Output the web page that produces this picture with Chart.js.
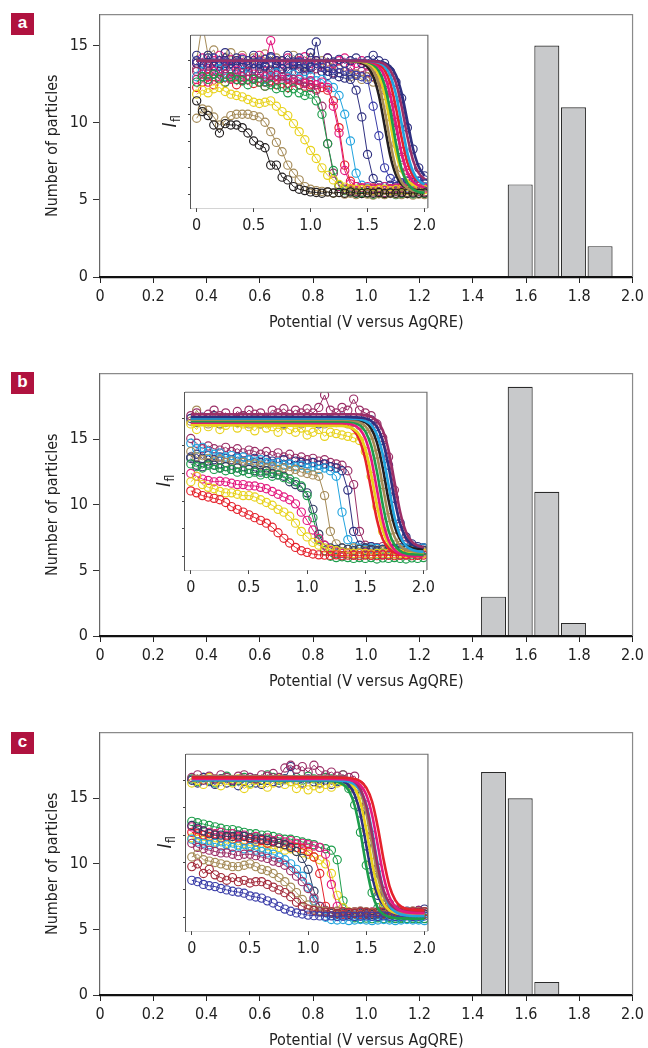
<!DOCTYPE html>
<html>
<head>
<meta charset="utf-8">
<title>Particle oxidation potentials</title>
<script src="https://cdn.jsdelivr.net/npm/chart.js@4.4.1/dist/chart.umd.min.js"></script>
<style>
  html, body { margin: 0; padding: 0; background: #fff; }
  body { position: relative; width: 648px; height: 1048px; overflow: hidden; }
  canvas { position: absolute; }
  .tag { position: absolute; left: 11px; width: 23px; height: 22px; background: #b0123f; color: #fff;
         font: bold 17px 'Liberation Sans', Arial, sans-serif; text-align: center; line-height: 20px; }
</style>
</head>
<body>
<div class="tag" style="top:13px">a</div>
<div class="tag" style="top:372px">b</div>
<div class="tag" style="top:732px">c</div>
<script>
// scan potentials (V vs AgQRE) shared by every recorded intensity curve
const SCAN_V = [0, 0.05, 0.1, 0.15, 0.2, 0.25, 0.3, 0.35, 0.4, 0.45, 0.5, 0.55, 0.6, 0.65, 0.7, 0.75, 0.8, 0.85, 0.9, 0.95,
  1, 1.05, 1.1, 1.15, 1.2, 1.25, 1.3, 1.35, 1.4, 1.45, 1.5, 1.55, 1.6, 1.65, 1.7, 1.75, 1.8, 1.85, 1.9, 1.95, 2];

// histogram bins (bin centre, V) and particle counts
const BINS_A = [1.578, 1.678, 1.778, 1.878];
const COUNTS_A = [6, 15, 11, 2];
const BINS_B = [1.478, 1.578, 1.678, 1.778];
const COUNTS_B = [3, 19, 11, 1];
const BINS_C = [1.478, 1.578, 1.678];
const COUNTS_C = [17, 15, 1];

const X_TICKS = [0, 0.2, 0.4, 0.6, 0.8, 1.0, 1.2, 1.4, 1.6, 1.8, 2.0];
const Y_TICKS = [0, 5, 10, 15];
const INSET_X_TICKS = [0, 0.5, 1.0, 1.5, 2.0];
const INSET_Y_TICKS = [0, 1, 2, 3, 4, 5];

// ---- panel a: recorded intensity curves ----
const aBlack = [3.5, 3.1, 2.95, 2.6, 2.3, 2.65, 2.6, 2.6, 2.5, 2.3, 2.0, 1.85, 1.75, 1.1, 1.1, 0.65, 0.55, 0.3, 0.2, 0.15,
  0.1, 0.08, 0.05, 0.1, 0.06, 0.08, 0.05, 0.1, 0.06, 0.04, 0.07, 0.05, 0.08, 0.04, 0.06, 0.05, 0.07, 0.04, 0.06, 0.05, 0.06];
const aOlive = [2.85, 3.2, 3.15, 2.9, 2.6, 2.75, 2.95, 3.0, 3.0, 3.0, 2.95, 2.9, 2.7, 2.35, 1.95, 1.6, 1.1, 0.8, 0.55, 0.3,
  0.2, 0.15, 0.12, 0.1, 0.05, 0.08, 0.02, 0.05, 0.0, 0.04, 0.02, -0.02, 0.03, 0.0, 0.04, 0.02, 0.0, 0.03, -0.02, 0.02, 0.0];
const aYellow = [3.75, 3.9, 3.8, 3.95, 4.0, 3.85, 3.75, 3.7, 3.65, 3.55, 3.45, 3.4, 3.45, 3.5, 3.3, 3.1, 2.95, 2.65, 2.35, 2.05,
  1.65, 1.35, 1.0, 0.72, 0.55, 0.38, 0.28, 0.22, 0.2, 0.18, 0.2, 0.15, 0.18, 0.2, 0.15, 0.18, 0.2, 0.15, 0.18, 0.2, 0.18];
const aGreen = [4.2, 4.4, 4.3, 4.5, 4.35, 4.2, 4.4, 4.3, 4.25, 4.1, 4.3, 4.2, 4.05, 4.1, 3.95, 4.0, 3.8, 3.95, 3.8, 3.7,
  3.75, 3.5, 3.0, 1.9, 0.9, 0.35, 0.15, 0.1, 0.05, 0.08, 0.05, 0.0, 0.04, 0.02, 0.05, 0.0, 0.03, 0.05, 0.02, 0.04, 0.03];
const aPlum = [4.6, 4.4, 4.8, 4.5, 4.3, 4.7, 4.4, 4.55, 4.3, 4.6, 4.35, 4.5, 4.2, 4.45, 4.3, 4.4, 4.15, 4.3, 4.1, 4.2,
  4.0, 3.9, 3.3, 1.9, 0.8, 0.3, 0.2, 0.15, 0.12, 0.1, 0.15, 0.1, 0.12, 0.08, 0.1, 0.12, 0.1, 0.08, 0.1, 0.12, 0.1];
const aMagenta = [4.3, 4.5, 4.2, 4.6, 4.4, 4.5, 4.3, 4.65, 4.4, 4.3, 4.5, 4.35, 4.4, 4.2, 4.45, 4.3, 4.35, 4.2, 4.3, 4.15,
  4.25, 4.1, 4.2, 4.0, 3.3, 2.3, 0.9, 0.4, 0.3, 0.25, 0.3, 0.2, 0.25, 0.3, 0.2, 0.25, 0.3, 0.22, 0.25, 0.3, 0.25];
const aRed = [4.0, 4.2, 4.4, 4.1, 4.3, 4.2, 4.35, 4.1, 4.25, 4.3, 4.15, 4.2, 4.05, 4.25, 4.1, 4.15, 4.0, 4.2, 4.1, 4.05,
  4.1, 3.95, 4.0, 3.9, 3.5, 2.5, 1.1, 0.5, 0.3, 0.25, 0.2, 0.25, 0.2, 0.18, 0.22, 0.2, 0.25, 0.2, 0.22, 0.2, 0.2];
const aCyan = [4.4, 4.6, 4.3, 4.5, 4.7, 4.4, 4.5, 4.3, 4.6, 4.45, 4.35, 4.5, 4.3, 4.4, 4.55, 4.3, 4.4, 4.5, 4.35, 4.3,
  4.4, 4.25, 4.3, 4.1, 4.0, 3.7, 3.0, 2.0, 0.8, 0.35, 0.25, 0.2, 0.25, 0.3, 0.2, 0.25, 0.3, 0.25, 0.3, 0.35, 0.3];
const aNavy1 = [4.9, 4.6, 5.2, 4.8, 4.6, 4.9, 4.7, 5.0, 4.75, 4.6, 4.9, 4.7, 4.8, 4.65, 5.0, 4.7, 4.6, 4.85, 4.7, 4.6,
  4.75, 5.7, 4.6, 4.45, 4.5, 4.4, 4.35, 4.3, 3.9, 2.9, 1.5, 0.6, 0.35, 0.3, 0.35, 0.3, 0.4, 0.35, 0.3, 0.35, 0.4];
const aNavy2 = [5.0, 4.7, 4.9, 5.1, 4.8, 4.95, 4.7, 4.9, 5.05, 4.8, 4.7, 4.95, 4.8, 5.1, 4.85, 4.7, 4.9, 4.8, 4.95, 4.7,
  4.8, 4.9, 4.75, 4.6, 4.7, 4.55, 4.6, 4.5, 4.45, 4.4, 4.3, 3.3, 2.2, 1.0, 0.6, 0.5, 0.45, 0.5, 0.45, 0.5, 0.55];
const aNavy3 = [5.2, 4.9, 5.1, 4.8, 5.0, 5.3, 4.9, 5.1, 4.85, 5.0, 5.2, 4.9, 5.05, 5.15, 4.9, 5.0, 5.2, 4.95, 5.1, 4.9,
  5.3, 5.0, 4.9, 5.1, 4.95, 5.05, 4.9, 5.0, 5.1, 4.9, 5.0, 5.2, 5.0, 4.9, 4.6, 4.2, 3.6, 2.5, 1.7, 1.0, 0.7];
const aPinkTop = [4.9, 5.1, 4.7, 5.0, 5.2, 4.8, 5.05, 4.9, 5.1, 4.85, 5.0, 5.2, 4.9, 5.75, 5.0, 4.9, 5.1, 4.8, 5.0, 5.15,
  4.9, 5.0, 4.85, 5.1, 4.9, 5.0, 5.1, 4.8, 4.9, 5.0, 4.8, 4.7, 4.5, 4.1, 3.6, 2.7, 1.6, 0.9, 0.5, 0.35, 0.3];
const aOliveTop = [5.0, 6.4, 5.2, 5.4, 4.9, 5.1, 5.3, 5.0, 5.2, 4.9, 5.1, 5.0, 5.25, 4.95, 5.1, 5.0, 4.9, 5.2, 5.0, 4.8,
  5.1, 4.9, 5.0, 4.8, 4.9, 4.7, 4.6, 4.4, 4.5, 4.3, 4.4, 4.2, 4.3, 3.7, 2.9, 1.9, 1.0, 0.5, 0.2, 0.15, 0.1];
const aPlumTop = [4.7, 4.9, 4.5, 4.8, 4.6, 5.0, 4.7, 4.5, 4.85, 4.6, 4.9, 4.55, 4.75, 4.6, 4.8, 4.5, 4.7, 4.9, 4.6, 4.75,
  4.5, 4.7, 4.6, 4.8, 4.55, 4.7, 4.6, 4.75, 4.5, 4.6, 4.55, 4.4, 4.2, 3.9, 3.3, 2.4, 1.4, 0.8, 0.55, 0.5, 0.45];

// panel a: fitted curves, sampled on FIT_V_A
const FIT_V_A = [0, 1.3, 1.4, 1.45, 1.5, 1.55, 1.6, 1.65, 1.7, 1.75, 1.8, 1.85, 1.9, 1.95, 2.0];
const fitABlack = [5, 5, 4.97, 4.91, 4.77, 4.42, 3.70, 2.58, 1.45, 0.73, 0.38, 0.24, 0.18, 0.16, 0.15];
const fitAOlive = [5, 5, 4.98, 4.95, 4.86, 4.63, 4.11, 3.15, 1.95, 0.99, 0.47, 0.24, 0.15, 0.12, 0.1];
const fitAYellow = [5, 5, 4.99, 4.97, 4.92, 4.78, 4.44, 3.74, 2.65, 1.56, 0.86, 0.52, 0.38, 0.33, 0.31];
const fitAGreen = [5, 5, 4.99, 4.98, 4.95, 4.85, 4.62, 4.10, 3.13, 1.92, 0.95, 0.43, 0.20, 0.10, 0.07];
const fitAMagenta = [5, 5, 5.0, 4.99, 4.97, 4.91, 4.77, 4.43, 3.72, 2.63, 1.53, 0.82, 0.48, 0.34, 0.28];
const fitARed = [5, 5, 5.0, 4.99, 4.98, 4.95, 4.86, 4.65, 4.15, 3.24, 2.11, 1.20, 0.70, 0.49, 0.40];
const fitACyan = [5, 5, 5.0, 5.0, 4.99, 4.97, 4.92, 4.78, 4.44, 3.74, 2.65, 1.56, 0.86, 0.52, 0.38];
const fitAPlum = [5, 5, 5.0, 5.0, 4.99, 4.98, 4.95, 4.87, 4.65, 4.17, 3.28, 2.17, 1.28, 0.80, 0.58];
const fitANavy = [5, 5, 5.0, 5.0, 5.0, 4.99, 4.97, 4.92, 4.79, 4.46, 3.79, 2.75, 1.71, 1.04, 0.71];

// ---- panel b: recorded intensity curves ----
const bRed = [2.37, 2.3, 2.2, 2.15, 2.1, 2.05, 1.95, 1.8, 1.7, 1.6, 1.5, 1.4, 1.3, 1.2, 1.05, 0.85, 0.65, 0.48, 0.32, 0.2,
  0.14, 0.08, 0.05, 0.04, 0.03, 0.05, 0.02, 0.04, 0.03, 0.02, 0.04, 0.03, 0.02, 0.04, 0.03, 0.02, 0.03, 0.04, 0.02, 0.03, 0.04];
const bYellow = [2.7, 2.9, 2.6, 2.5, 2.45, 2.35, 2.3, 2.3, 2.25, 2.2, 2.2, 2.15, 2.05, 1.95, 1.85, 1.7, 1.6, 1.45, 1.2, 0.9,
  0.7, 0.5, 0.4, 0.3, 0.25, 0.2, 0.15, 0.12, 0.1, 0.12, 0.1, 0.08, 0.1, 0.12, 0.1, 0.08, 0.1, 0.1, 0.12, 0.1, 0.1];
const bPink = [3.0, 2.9, 2.8, 2.75, 2.7, 2.72, 2.7, 2.65, 2.6, 2.6, 2.55, 2.55, 2.5, 2.45, 2.35, 2.25, 2.15, 2.05, 1.9, 1.6,
  1.3, 0.95, 0.65, 0.4, 0.2, 0.15, 0.1, 0.12, 0.08, 0.1, 0.12, 0.08, 0.1, 0.06, 0.08, 0.1, 0.08, 0.06, 0.1, 0.08, 0.1];
const bGreen = [3.35, 3.25, 3.2, 3.3, 3.15, 3.2, 3.1, 3.15, 3.05, 3.1, 3.0, 3.05, 2.95, 3.0, 2.9, 2.95, 2.85, 2.8, 2.7, 2.55,
  2.2, 1.4, 0.6, 0.2, 0.0, -0.05, -0.02, -0.05, -0.08, -0.05, -0.08, -0.05, -0.1, -0.06, -0.08, -0.05, -0.08, -0.1, -0.06, -0.08, -0.05];
const bSlate = [3.55, 3.3, 3.25, 3.35, 3.3, 3.2, 3.25, 3.15, 3.2, 3.1, 3.15, 3.1, 3.05, 3.1, 3.0, 2.95, 2.9, 2.7, 2.6, 2.5,
  2.3, 1.7, 0.8, 0.4, 0.3, 0.25, 0.3, 0.25, 0.2, 0.25, 0.3, 0.25, 0.2, 0.25, 0.22, 0.25, 0.2, 0.22, 0.25, 0.2, 0.22];
const bOlive = [3.8, 3.6, 3.5, 3.55, 3.45, 3.5, 3.4, 3.45, 3.35, 3.4, 3.3, 3.35, 3.3, 3.2, 3.25, 3.15, 3.2, 3.1, 3.15, 3.05,
  3.0, 2.95, 2.9, 2.2, 0.9, 0.45, 0.3, 0.25, 0.3, 0.25, 0.2, 0.25, 0.22, 0.2, 0.25, 0.2, 0.22, 0.25, 0.2, 0.22, 0.2];
const bCyan = [4.1, 3.9, 3.95, 3.8, 3.7, 3.75, 3.6, 3.65, 3.55, 3.6, 3.5, 3.45, 3.5, 3.4, 3.35, 3.4, 3.3, 3.35, 3.25, 3.3,
  3.2, 3.25, 3.15, 3.2, 3.1, 2.9, 1.6, 0.6, 0.35, 0.3, 0.25, 0.3, 0.28, 0.25, 0.3, 0.25, 0.28, 0.3, 0.25, 0.28, 0.3];
const bBlue = [3.6, 3.7, 3.55, 3.65, 3.5, 3.6, 3.55, 3.5, 3.6, 3.45, 3.5, 3.55, 3.4, 3.5, 3.45, 3.4, 3.5, 3.35, 3.45, 3.4,
  3.35, 3.4, 3.3, 3.35, 3.25, 3.2, 3.1, 2.4, 0.9, 0.4, 0.3, 0.35, 0.3, 0.25, 0.3, 0.28, 0.3, 0.25, 0.3, 0.28, 0.3];
const bPlum = [4.27, 4.1, 3.9, 4.0, 3.9, 3.85, 3.95, 3.8, 3.9, 3.75, 3.85, 3.8, 3.7, 3.8, 3.65, 3.75, 3.6, 3.7, 3.55, 3.6,
  3.5, 3.55, 3.45, 3.5, 3.4, 3.35, 3.3, 3.1, 2.6, 0.9, 0.4, 0.35, 0.3, 0.35, 0.3, 0.25, 0.3, 0.28, 0.3, 0.25, 0.3];
const bPlumTop = [5.1, 5.2, 5.0, 5.15, 5.3, 5.1, 5.2, 5.0, 5.25, 5.1, 5.3, 5.15, 5.2, 5.05, 5.3, 5.2, 5.35, 5.15, 5.3, 5.2,
  5.35, 5.2, 5.4, 5.85, 5.3, 5.2, 5.4, 5.3, 5.7, 5.3, 5.2, 5.1, 4.8, 4.3, 3.6, 2.4, 1.1, 0.55, 0.3, 0.2, 0.2];
const bYellowTop = [4.8, 4.6, 4.9, 4.7, 4.85, 4.6, 4.75, 4.9, 4.65, 4.8, 4.7, 4.55, 4.8, 4.65, 4.7, 4.5, 4.75, 4.6, 4.5, 4.65,
  4.4, 4.5, 4.6, 4.35, 4.5, 4.45, 4.4, 4.35, 4.3, 4.2, 3.8, 2.9, 1.8, 0.9, 0.45, 0.25, 0.15, 0.12, 0.1, 0.12, 0.1];
const bNavyTop = [5.0, 4.85, 5.05, 4.9, 5.1, 4.8, 4.95, 5.0, 4.85, 5.1, 4.9, 5.0, 4.8, 4.95, 5.05, 4.9, 4.8, 5.0, 4.9, 4.85,
  5.05, 4.9, 4.8, 5.0, 4.95, 4.9, 5.05, 4.95, 5.0, 4.9, 5.0, 4.95, 4.7, 4.2, 3.3, 2.1, 1.2, 0.7, 0.45, 0.35, 0.3];
const bOliveTop = [4.9, 5.3, 5.0, 4.8, 5.1, 4.95, 4.85, 5.0, 4.9, 5.05, 4.8, 4.95, 5.0, 4.85, 4.9, 5.05, 4.8, 4.95, 4.9, 4.8,
  5.0, 4.85, 4.9, 4.8, 4.95, 4.85, 4.9, 4.8, 4.85, 4.75, 4.7, 4.4, 3.7, 2.6, 1.4, 0.7, 0.4, 0.25, 0.2, 0.15, 0.15];

// panel b: fitted curves, sampled on FIT_V_B
const FIT_V_B = [0, 1.3, 1.4, 1.45, 1.5, 1.55, 1.6, 1.65, 1.7, 1.75, 1.8, 1.85, 1.9, 1.95, 2.0];
const fitBRed = [4.8, 4.77, 4.57, 4.23, 3.52, 2.43, 1.33, 0.62, 0.28, 0.14, 0.08, 0.06, 0.05, 0.05, 0.05];
const fitBYellow = [4.75, 4.73, 4.61, 4.40, 3.90, 2.99, 1.86, 0.95, 0.45, 0.24, 0.15, 0.12, 0.11, 0.10, 0.10];
const fitBMagenta = [4.85, 4.84, 4.76, 4.62, 4.27, 3.55, 2.43, 1.30, 0.58, 0.23, 0.09, 0.03, 0.01, 0, 0];
const fitBGreen = [4.9, 4.89, 4.85, 4.76, 4.53, 4.02, 3.07, 1.88, 0.93, 0.42, 0.19, 0.10, 0.07, 0.06, 0.05];
const fitBOlive = [4.95, 4.95, 4.92, 4.86, 4.72, 4.38, 3.66, 2.55, 1.44, 0.72, 0.38, 0.24, 0.18, 0.16, 0.15];
const fitBBlack = [5.0, 5.0, 4.98, 4.95, 4.86, 4.64, 4.13, 3.21, 2.04, 1.12, 0.61, 0.39, 0.30, 0.27, 0.26];
const fitBCyan = [5.0, 5.0, 4.99, 4.97, 4.91, 4.77, 4.42, 3.70, 2.58, 1.45, 0.73, 0.38, 0.24, 0.18, 0.16];
const fitBNavy = [5.05, 5.05, 5.04, 5.03, 5.0, 4.91, 4.69, 4.18, 3.26, 2.09, 1.17, 0.66, 0.44, 0.35, 0.32];
const fitBPlum = [5.15, 5.15, 5.15, 5.14, 5.12, 5.06, 4.92, 4.57, 3.85, 2.73, 1.60, 0.88, 0.53, 0.39, 0.33];

// ---- panel c: recorded intensity curves ----
const cBlue = [1.35, 1.3, 1.2, 1.15, 1.12, 1.05, 1.0, 0.95, 0.92, 0.88, 0.78, 0.74, 0.7, 0.6, 0.52, 0.4, 0.3, 0.22, 0.16, 0.12,
  0.08, 0.06, 0.05, 0.04, 0.05, 0.03, 0.04, 0.05, 0.03, 0.04, 0.05, 0.04, 0.03, 0.05, 0.04, 0.03, 0.04, 0.05, 0.03, 0.04, 0.05];
const cBrick = [1.85, 1.95, 1.6, 1.75, 1.55, 1.45, 1.35, 1.45, 1.3, 1.35, 1.25, 1.3, 1.3, 1.2, 1.1, 1.0, 0.9, 0.75, 0.55, 0.4,
  0.3, 0.25, 0.2, 0.18, 0.2, 0.15, 0.2, 0.18, 0.15, 0.2, 0.18, 0.15, 0.2, 0.18, 0.15, 0.2, 0.18, 0.15, 0.2, 0.18, 0.2];
const cOlive = [2.2, 2.3, 2.1, 2.05, 2.0, 1.95, 1.9, 1.85, 1.85, 1.9, 1.95, 1.85, 1.75, 1.7, 1.6, 1.45, 1.3, 1.1, 0.9, 0.65,
  0.45, 0.3, 0.25, 0.22, 0.2, 0.22, 0.2, 0.18, 0.2, 0.22, 0.2, 0.18, 0.2, 0.22, 0.2, 0.18, 0.2, 0.2, 0.22, 0.2, 0.2];
const cPlum = [2.7, 2.55, 2.5, 2.45, 2.4, 2.35, 2.35, 2.3, 2.25, 2.3, 2.3, 2.25, 2.2, 2.15, 2.05, 2.0, 1.9, 1.7, 1.5, 1.3,
  1.05, 0.7, 0.4, 0.25, 0.2, 0.22, 0.2, 0.18, 0.2, 0.22, 0.2, 0.18, 0.2, 0.2, 0.22, 0.2, 0.18, 0.2, 0.22, 0.2, 0.2];
const cCyan = [2.85, 2.75, 2.7, 2.65, 2.7, 2.6, 2.65, 2.55, 2.6, 2.5, 2.55, 2.45, 2.4, 2.35, 2.3, 2.2, 2.1, 1.95, 1.75, 1.5,
  1.1, 0.6, 0.2, 0.0, -0.08, -0.1, -0.08, -0.12, -0.1, -0.08, -0.1, -0.12, -0.1, -0.08, -0.1, -0.12, -0.1, -0.08, -0.1, -0.1, -0.12];
const cNavy = [3.35, 3.25, 3.15, 3.05, 3.0, 3.0, 2.95, 2.95, 3.0, 2.95, 2.9, 2.85, 2.85, 2.8, 2.75, 2.7, 2.65, 2.55, 2.4, 2.15,
  1.75, 0.95, 0.4, 0.2, 0.15, 0.12, 0.15, 0.1, 0.12, 0.15, 0.12, 0.1, 0.12, 0.15, 0.12, 0.1, 0.12, 0.15, 0.12, 0.1, 0.12];
const cRed = [3.1, 3.05, 3.0, 2.95, 3.0, 2.9, 2.95, 2.85, 2.9, 2.8, 2.85, 2.75, 2.8, 2.7, 2.75, 2.7, 2.65, 2.6, 2.55, 2.5,
  2.4, 2.2, 1.6, 0.4, 0.15, 0.12, 0.1, 0.12, 0.15, 0.1, 0.12, 0.1, 0.15, 0.12, 0.1, 0.12, 0.15, 0.1, 0.12, 0.1, 0.12];
const cPink = [3.3, 3.2, 3.15, 3.1, 3.05, 3.1, 3.0, 3.05, 2.95, 3.0, 2.9, 2.95, 2.85, 2.9, 2.8, 2.85, 2.75, 2.8, 2.7, 2.7,
  2.65, 2.6, 2.55, 2.3, 1.2, 0.4, 0.2, 0.15, 0.2, 0.18, 0.15, 0.2, 0.18, 0.15, 0.2, 0.18, 0.15, 0.2, 0.18, 0.15, 0.2];
const cYellow = [2.9, 2.85, 2.8, 2.85, 2.75, 2.8, 2.7, 2.75, 2.65, 2.7, 2.6, 2.65, 2.55, 2.6, 2.5, 2.55, 2.45, 2.5, 2.4, 2.35,
  2.3, 2.2, 2.1, 1.95, 1.6, 0.8, 0.35, 0.2, 0.15, 0.2, 0.18, 0.15, 0.2, 0.18, 0.15, 0.2, 0.18, 0.15, 0.2, 0.18, 0.2];
const cGreen = [3.5, 3.45, 3.4, 3.35, 3.3, 3.25, 3.2, 3.2, 3.15, 3.1, 3.05, 3.05, 3.0, 3.0, 2.95, 2.9, 2.85, 2.85, 2.8, 2.75,
  2.7, 2.65, 2.55, 2.5, 2.45, 2.1, 0.6, 0.15, -0.02, -0.05, -0.03, -0.05, -0.02, -0.05, -0.03, -0.05, -0.02, -0.05, -0.03, -0.05, -0.04];
const cPlumTop = [5.1, 5.2, 5.0, 5.15, 5.05, 5.2, 5.1, 5.0, 5.15, 5.2, 5.1, 5.05, 5.2, 5.15, 5.25, 5.1, 5.45, 5.55, 5.4, 5.5,
  5.3, 5.55, 5.35, 5.2, 5.3, 5.15, 5.2, 5.1, 5.15, 4.8, 4.1, 3.0, 1.8, 0.95, 0.5, 0.3, 0.25, 0.2, 0.2, 0.25, 0.2];
const cYellowTop = [4.9, 5.0, 4.85, 5.1, 4.95, 4.8, 5.0, 4.9, 5.05, 4.7, 4.85, 5.0, 4.9, 4.75, 4.9, 5.05, 4.85, 4.95, 4.7, 4.85,
  4.65, 4.8, 4.7, 4.85, 4.75, 4.9, 4.95, 4.85, 4.7, 4.2, 3.2, 2.0, 1.0, 0.5, 0.25, 0.15, 0.12, 0.1, 0.12, 0.1, 0.1];
const cNavyTop = [5.0, 4.9, 5.1, 4.95, 4.85, 5.05, 4.9, 5.0, 4.8, 4.95, 5.1, 4.9, 4.85, 5.0, 4.95, 4.9, 5.05, 5.5, 5.0, 4.9,
  5.05, 4.95, 4.9, 5.0, 4.85, 4.95, 5.0, 4.9, 4.5, 3.8, 2.6, 1.5, 0.8, 0.45, 0.3, 0.25, 0.2, 0.22, 0.2, 0.25, 0.3];
const cGreenTop = [5.05, 4.95, 5.1, 5.0, 4.9, 5.05, 5.15, 4.95, 5.0, 5.1, 4.9, 5.05, 5.0, 5.2, 5.1, 5.0, 5.05, 4.95, 5.1, 5.0,
  5.15, 5.05, 5.0, 5.1, 5.05, 5.0, 5.2, 4.7, 4.1, 3.1, 1.9, 0.9, 0.35, 0.1, 0.0, -0.03, -0.05, -0.04, -0.05, -0.03, -0.05];

// panel c: fitted curves, sampled on FIT_V_C
const FIT_V_C = [0, 1.2, 1.3, 1.35, 1.4, 1.45, 1.5, 1.55, 1.6, 1.65, 1.7, 1.75, 1.8, 1.9, 2.0];
const fitCGreen = [5.0, 4.98, 4.85, 4.62, 4.08, 3.09, 1.86, 0.87, 0.33, 0.10, 0.01, -0.03, -0.04, -0.05, -0.05];
const fitCNavy = [5.05, 5.04, 4.96, 4.82, 4.47, 3.75, 2.63, 1.50, 0.78, 0.43, 0.29, 0.23, 0.21, 0.20, 0.20];
const fitCYellow = [5.1, 5.09, 5.05, 4.95, 4.72, 4.19, 3.21, 1.99, 1.01, 0.48, 0.25, 0.16, 0.12, 0.10, 0.10];
const fitCOlive = [5.15, 5.14, 5.12, 5.06, 4.91, 4.55, 3.81, 2.65, 1.49, 0.75, 0.39, 0.24, 0.18, 0.15, 0.15];
const fitCCyan = [5.0, 5.0, 4.98, 4.95, 4.85, 4.62, 4.10, 3.13, 1.92, 0.95, 0.43, 0.20, 0.10, 0.05, 0.05];
const fitCMagenta = [5.05, 5.05, 5.04, 5.02, 4.96, 4.82, 4.47, 3.73, 2.60, 1.47, 0.73, 0.38, 0.24, 0.16, 0.15];
const fitCRed = [5.1, 5.1, 5.09, 5.08, 5.05, 4.96, 4.73, 4.22, 3.27, 2.08, 1.13, 0.62, 0.39, 0.27, 0.25];
const fitCPlum = [5.12, 5.12, 5.1, 5.05, 4.94, 4.67, 4.07, 3.03, 1.83, 0.96, 0.51, 0.32, 0.24, 0.20, 0.20];

const INK = {
  black: '#231f20', olive: '#a58b58', yellow: '#e8d21c', green: '#1d9d4b', magenta: '#e3197f',
  red: '#e5222c', cyan: '#22a4df', navy: '#2f3080', plum: '#9b2f67', slate: '#2f3c62',
  blue: '#3a3da8', brick: '#a32c3c'
};

// pick a condensed face when one is installed, sized to the face's width
function pickFamily() {
  const ctx = document.createElement('canvas').getContext('2d');
  const probe = 'Potential (V versus AgQRE) 0.123456789';
  ctx.font = '18px monospace';
  const base = ctx.measureText(probe).width;
  const faces = [['Liberation Sans Narrow', 18], ['Arial Narrow', 18], ['DejaVu Sans Condensed', 16], ['Roboto Condensed', 17]];
  for (const [f, size] of faces) {
    ctx.font = `18px "${f}", monospace`;
    if (Math.abs(ctx.measureText(probe).width - base) > 0.5) return [`"${f}", "Liberation Sans", sans-serif`, size];
  }
  return ['"Liberation Sans", Arial, sans-serif', 15];
}
const [FAMILY, FS] = pickFamily();

Chart.defaults.font.family = FAMILY;
Chart.defaults.font.size = FS;
Chart.defaults.color = '#222';

// top and right edges of the plot box (and a white sheet under the inset)
const boxFrame = {
  id: 'boxFrame',
  beforeDatasetsDraw(chart, args, o) {
    if (!o.paper) return;
    const {ctx, chartArea: a} = chart;
    ctx.save();
    ctx.fillStyle = '#fff';
    ctx.fillRect(a.left, a.top, a.right - a.left, a.bottom - a.top);
    ctx.restore();
  },
  afterDraw(chart, args, o) {
    const {ctx, chartArea: a} = chart;
    ctx.save();
    ctx.strokeStyle = o.color;
    ctx.lineWidth = o.width;
    ctx.beginPath();
    ctx.moveTo(a.left, a.top);
    ctx.lineTo(a.right, a.top);
    ctx.lineTo(a.right, a.bottom);
    ctx.stroke();
    ctx.restore();
  }
};

// rotated I_fl label beside the inset
const intensityLabel = {
  id: 'intensityLabel',
  afterDraw(chart) {
    const {ctx, chartArea: a} = chart;
    ctx.save();
    ctx.translate(a.left - 21, (a.top + a.bottom) / 2);
    ctx.rotate(-Math.PI / 2);
    ctx.fillStyle = '#222';
    ctx.font = `italic 19px ${FAMILY}`;
    const wI = ctx.measureText('I').width;
    ctx.font = `12px ${FAMILY}`;
    const wS = ctx.measureText('fl').width;
    const x0 = -(wI + wS) / 2;
    ctx.font = `italic 19px ${FAMILY}`;
    ctx.fillText('I', x0, 6);
    ctx.font = `12px ${FAMILY}`;
    ctx.fillText('fl', x0 + wI + 0.5, 10);
    ctx.restore();
  }
};

function makeCanvas(left, top, w, h) {
  const c = document.createElement('canvas');
  c.width = w; c.height = h;
  c.style.left = left + 'px';
  c.style.top = top + 'px';
  document.body.appendChild(c);
  return c;
}

const fixedTicks = list => scale => { scale.ticks = list.map(v => ({value: v})); };
const decimal = v => (v === 0 ? '0' : v.toFixed(1));

function histogram(top, bins, counts, yMax) {
  const canvas = makeCanvas(0, top, 648, 340);
  return new Chart(canvas, {
    type: 'bar',
    data: {
      datasets: [{
        data: bins.map((x, i) => ({x: x, y: counts[i]})),
        backgroundColor: '#c8c9cb',
        borderColor: '#2b2b2b',
        borderWidth: 1.2,
        borderSkipped: 'start',
        barPercentage: 0.94,
        categoryPercentage: 1
      }]
    },
    options: {
      responsive: false,
      animation: false,
      layout: {padding: {top: 14, right: 11, left: 0, bottom: 0}},
      plugins: {legend: {display: false}, tooltip: {enabled: false}, boxFrame: {color: '#8a8a8a', width: 1.2}},
      scales: {
        x: {
          type: 'linear', min: 0, max: 2, offset: false,
          afterBuildTicks: fixedTicks(X_TICKS),
          afterFit: s => { s.height = 63; },
          grid: {drawOnChartArea: false, offset: false, tickLength: 6, color: '#222'},
          border: {color: '#111', width: 2.2, z: 1},
          ticks: {padding: 4, maxRotation: 0, autoSkip: false, callback: decimal},
          title: {display: true, text: 'Potential (V versus AgQRE)', padding: {top: 0, bottom: 8}}
        },
        y: {
          min: 0, max: yMax,
          afterBuildTicks: fixedTicks(Y_TICKS),
          afterFit: s => { s.width = 100; },
          grid: {drawOnChartArea: false, tickLength: 7, color: '#333'},
          border: {color: '#666', width: 1.2},
          ticks: {padding: 5, callback: v => String(v)},
          title: {display: true, text: 'Number of particles', padding: {top: 43, bottom: 0}}
        }
      }
    },
    plugins: [boxFrame]
  });
}

function inset(frame, curves, fitV, fits) {
  const canvas = makeCanvas(frame.l - 40, frame.t - 5, frame.r - frame.l + 48, frame.b - frame.t + 37);
  const fitSets = fits.map(([vals, color]) => ({
    data: fitV.map((x, i) => ({x: x, y: vals[i]})),
    borderColor: color, borderWidth: 2.6, pointRadius: 0,
    cubicInterpolationMode: 'monotone', order: 0
  }));
  const scanSets = curves.map(([vals, color]) => ({
    data: SCAN_V.map((x, i) => ({x: x, y: vals[i]})),
    borderColor: color, borderWidth: 1,
    pointRadius: 4.1, pointBorderWidth: 1.15,
    pointBorderColor: color, pointBackgroundColor: 'rgba(255,255,255,0)',
    order: 1
  }));
  return new Chart(canvas, {
    type: 'line',
    data: {datasets: fitSets.concat(scanSets)},
    options: {
      responsive: false,
      animation: false,
      layout: {padding: {top: 5, right: 8, left: 0, bottom: 0}},
      plugins: {legend: {display: false}, tooltip: {enabled: false}, boxFrame: {color: '#707070', width: 1.2, paper: true}},
      scales: {
        x: {
          type: 'linear', min: -0.05, max: 2.03,
          afterBuildTicks: fixedTicks(INSET_X_TICKS),
          afterFit: s => { s.height = 32; },
          grid: {drawOnChartArea: false, tickLength: 4, color: '#444'},
          border: {color: '#555', width: 1.2},
          ticks: {padding: 4, maxRotation: 0, autoSkip: false, callback: decimal}
        },
        y: {
          min: -0.5, max: 5.95,
          afterBuildTicks: fixedTicks(INSET_Y_TICKS),
          afterFit: s => { s.width = 40; },
          grid: {drawOnChartArea: false, tickLength: 3, color: '#444'},
          border: {color: '#555', width: 1.2},
          ticks: {display: false}
        }
      }
    },
    plugins: [boxFrame, intensityLabel]
  });
}

// panel a
histogram(0, BINS_A, COUNTS_A, 17);
inset({l: 191, t: 35, r: 432, b: 208},
  [[aBlack, INK.black], [aOlive, INK.olive], [aYellow, INK.yellow], [aGreen, INK.green], [aPlum, INK.plum],
   [aMagenta, INK.magenta], [aRed, INK.red], [aCyan, INK.cyan], [aNavy1, INK.navy], [aNavy2, INK.blue],
   [aNavy3, INK.navy], [aPinkTop, INK.magenta], [aOliveTop, INK.olive], [aPlumTop, INK.plum]],
  FIT_V_A,
  [[fitAPlum, INK.plum], [fitANavy, INK.navy], [fitACyan, INK.cyan], [fitARed, INK.red], [fitAMagenta, INK.magenta],
   [fitAGreen, INK.green], [fitAYellow, INK.yellow], [fitAOlive, INK.olive], [fitABlack, INK.black]]);

// panel b
histogram(359, BINS_B, COUNTS_B, 20);
inset({l: 185, t: 392, r: 431, b: 570},
  [[bRed, INK.red], [bYellow, INK.yellow], [bPink, INK.magenta], [bGreen, INK.green], [bSlate, INK.slate],
   [bOlive, INK.olive], [bCyan, INK.cyan], [bBlue, INK.navy], [bPlum, INK.plum],
   [bPlumTop, INK.plum], [bYellowTop, INK.yellow], [bNavyTop, INK.navy], [bOliveTop, INK.olive]],
  FIT_V_B,
  [[fitBPlum, INK.plum], [fitBNavy, INK.navy], [fitBCyan, INK.cyan], [fitBBlack, INK.black], [fitBOlive, INK.olive],
   [fitBGreen, INK.green], [fitBMagenta, INK.magenta], [fitBYellow, INK.yellow], [fitBRed, INK.red]]);

// panel c
histogram(718, BINS_C, COUNTS_C, 20);
inset({l: 186, t: 754, r: 432, b: 931},
  [[cBlue, INK.blue], [cBrick, INK.brick], [cOlive, INK.olive], [cPlum, INK.plum], [cCyan, INK.cyan],
   [cNavy, INK.slate], [cRed, INK.red], [cPink, INK.magenta], [cYellow, INK.yellow], [cGreen, INK.green],
   [cPlumTop, INK.plum], [cYellowTop, INK.yellow], [cNavyTop, INK.navy], [cGreenTop, INK.green]],
  FIT_V_C,
  [[fitCRed, INK.red], [fitCMagenta, INK.magenta], [fitCPlum, INK.plum], [fitCCyan, INK.cyan], [fitCOlive, INK.olive],
   [fitCYellow, INK.yellow], [fitCNavy, INK.navy], [fitCGreen, INK.green]]);
</script>
</body>
</html>
